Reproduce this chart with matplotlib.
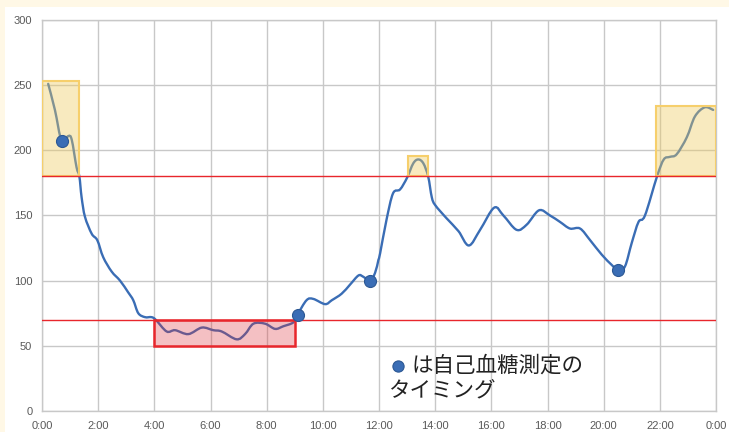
import matplotlib
matplotlib.use("Agg")
import matplotlib.pyplot as plt
from matplotlib.patches import Rectangle, PathPatch
from matplotlib.path import Path

# glucose curve (hours, mg/dL)
hours = [0.22, 0.46, 0.70, 0.94, 1.06, 1.23, 1.33, 1.41, 1.53, 1.77, 1.97, 2.18,
         2.48, 2.78, 3.07, 3.25, 3.43, 3.67, 3.90, 4.05, 4.44, 4.74, 5.21, 5.69,
         6.10, 6.40, 6.93, 7.23, 7.53, 7.94, 8.30, 8.59, 8.95, 9.10, 9.42, 9.66,
         10.08, 10.32, 10.67, 10.97, 11.27, 11.44, 11.68, 11.86, 11.98, 12.04,
         12.27, 12.50, 12.75, 13.00, 13.22, 13.40, 13.58, 13.75, 13.88, 14.00,
         14.40, 14.83, 15.20, 15.60, 16.10, 16.43, 16.90, 17.26, 17.70, 18.09,
         18.45, 18.80, 19.16, 19.52, 19.93, 20.29, 20.52, 20.76, 21.00, 21.24,
         21.47, 21.90, 22.14, 22.36, 22.60, 22.96, 23.25, 23.60, 23.90]
glucose = [251, 231, 207, 211, 208, 187, 180, 164, 149, 136, 131, 118,
           107, 100, 91, 85, 75, 72, 72, 70, 61, 62, 59, 64,
           62, 61, 55, 59, 67, 67, 63, 65, 68, 74, 85, 86,
           82, 85, 90, 97, 104, 103, 100, 106, 116, 121,
           147, 167, 170, 179, 190, 193, 190, 180, 164, 158,
           148, 138, 127, 139, 156, 150, 139, 143, 154, 150,
           145, 140, 140, 131, 120, 112, 108, 111, 129, 145,
           150, 180, 193, 195, 197, 210, 226, 233, 231]

# self-monitoring (SMBG) timings
smbg_hours = [0.70, 9.10, 11.68, 20.52]
smbg_values = [207, 74, 100, 108]

upper_limit = 180
lower_limit = 70

# highlighted ranges: (start hour, end hour, top value)
high_spans = [(0.0, 1.33, 253), (13.05, 13.76, 196), (21.85, 24.0, 234)]
low_span = (4.0, 9.0, 50)

xticks = list(range(0, 25, 2))
xlabels = ["0:00", "2:00", "4:00", "6:00", "8:00", "10:00", "12:00",
           "14:00", "16:00", "18:00", "20:00", "22:00", "0:00"]
yticks = [0, 50, 100, 150, 200, 250, 300]

line_blue = "#3a6db5"
grid_gray = "#c8c8c8"


def smooth_path(xs, ys):
    # Excel-style smoothed line: cubic bezier through each point
    pts = list(zip(xs, ys))
    verts = [pts[0]]
    codes = [Path.MOVETO]
    n = len(pts)
    for i in range(n - 1):
        p0 = pts[max(i - 1, 0)]
        p1 = pts[i]
        p2 = pts[i + 1]
        p3 = pts[min(i + 2, n - 1)]
        c1 = (p1[0] + (p2[0] - p0[0]) / 6, p1[1] + (p2[1] - p0[1]) / 6)
        c2 = (p2[0] - (p3[0] - p1[0]) / 6, p2[1] - (p3[1] - p1[1]) / 6)
        verts += [c1, c2, p2]
        codes += [Path.CURVE4] * 3
    return Path(verts, codes)


fig = plt.figure(figsize=(7.29, 4.32), dpi=100, facecolor="#fff8e6")
fig.patches.append(Rectangle((5 / 729, 0), 1, 1 - 7 / 432, transform=fig.transFigure,
                             facecolor="white", edgecolor="none", zorder=-5))
ax = fig.add_axes([42 / 729, 21 / 432, 674 / 729, 391 / 432])
ax.set_facecolor("white")

ax.add_patch(PathPatch(smooth_path(hours, glucose), facecolor="none",
                       edgecolor=line_blue, lw=1.7, zorder=3, capstyle="round"))

# high / low boxes drawn over the line
for x0, x1, top in high_spans:
    ax.add_patch(Rectangle((x0, upper_limit), x1 - x0, top - upper_limit,
                           facecolor="#eecb5f", alpha=0.4, edgecolor="none", zorder=4))
    ax.add_patch(Rectangle((x0, upper_limit), x1 - x0, top - upper_limit,
                           facecolor="none", edgecolor="#f6cf6c", lw=1.5, zorder=4))
x0, x1, bottom = low_span
ax.add_patch(Rectangle((x0, bottom), x1 - x0, lower_limit - bottom,
                       facecolor="#dd3039", alpha=0.3, edgecolor="none", zorder=4))
ax.add_patch(Rectangle((x0, bottom), x1 - x0, lower_limit - bottom,
                       facecolor="none", edgecolor="#e8262c", lw=1.8, zorder=5))

ax.axhline(upper_limit, color="#e8262c", lw=1.0, zorder=4)
ax.axhline(lower_limit, color="#e8262c", lw=1.0, zorder=4)

ax.scatter(smbg_hours, smbg_values, s=75, color=line_blue, edgecolor="#2c5894",
           linewidth=0.8, zorder=6)

# note
ax.scatter([12.68], [34.5], s=65, color=line_blue, edgecolor="#2c5894", linewidth=0.8, zorder=6)
jp = ["Noto Sans CJK JP", "DejaVu Sans"]
ax.text(13.15, 34.5, "は自己血糖測定の", family=jp, fontsize=15.5, color="#222222",
        va="center", ha="left", zorder=6)
ax.text(12.33, 16, "タイミング", family=jp, fontsize=15.5, color="#222222",
        va="center", ha="left", zorder=6)

ax.set_xlim(0, 24)
ax.set_ylim(0, 300)
ax.set_xticks(xticks)
ax.set_xticklabels(xlabels)
ax.set_yticks(yticks)
ax.grid(True, color=grid_gray, lw=1.0, zorder=0)
ax.set_axisbelow(True)
for s in ax.spines.values():
    s.set_color(grid_gray)
    s.set_linewidth(1.0)
ax.tick_params(length=0, labelsize=8, labelcolor="#595959", pad=7)
for lab in ax.get_xticklabels() + ax.get_yticklabels():
    lab.set_fontfamily("Liberation Sans")

fig.savefig("out.png", dpi=100, facecolor=fig.get_facecolor())
